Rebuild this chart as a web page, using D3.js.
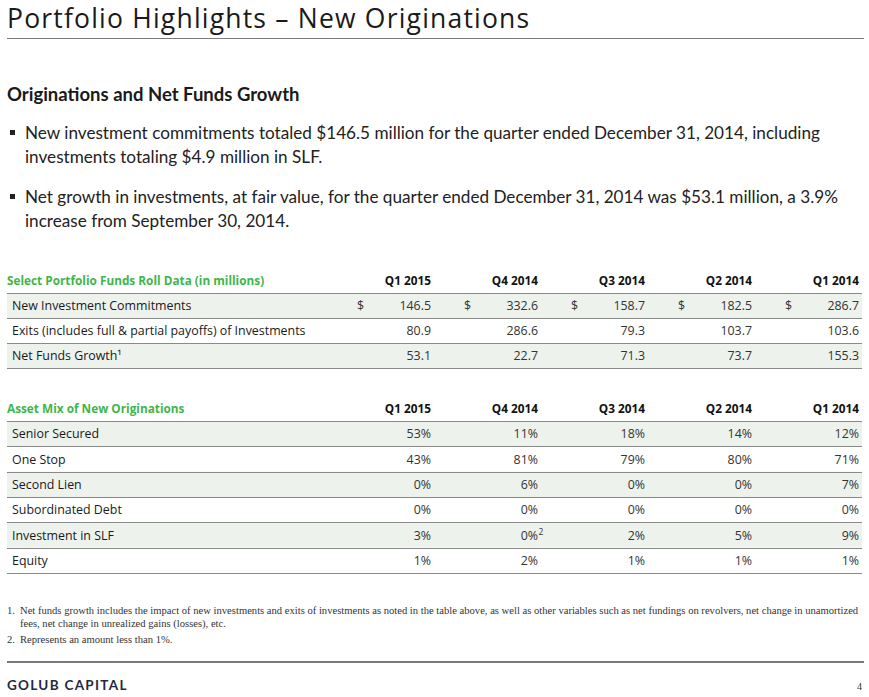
<!DOCTYPE html>
<html>
<head>
<meta charset="utf-8">
<script src="https://cdn.jsdelivr.net/npm/d3@7"></script>
<style>
  body { margin: 0; background: #fff; }
</style>
</head>
<body>
<div class="container"></div>
<script>
// Table data
const quarters = ["Q1 2015", "Q4 2014", "Q3 2014", "Q2 2014", "Q1 2014"];

const rollLabels = ["New Investment Commitments", "Exits (includes full & partial payoffs) of Investments", "Net Funds Growth\u00b9"];
const newCommitments = [146.5, 332.6, 158.7, 182.5, 286.7];
const exitsValues = [80.9, 286.6, 79.3, 103.7, 103.6];
const netFundsGrowth = [53.1, 22.7, 71.3, 73.7, 155.3];

const mixLabels = ["Senior Secured", "One Stop", "Second Lien", "Subordinated Debt", "Investment in SLF", "Equity"];
const seniorSecured = [53, 11, 18, 14, 12];
const oneStop = [43, 81, 79, 80, 71];
const secondLien = [0, 6, 0, 0, 7];
const subordinatedDebt = [0, 0, 0, 0, 0];
const investmentSLF = [3, 0, 2, 5, 9];
const equity = [1, 2, 1, 1, 1];
// footnote marks on single cells: [row, column, mark]
const mixNotes = [[4, 1, "2"]];

const bullets = [
    ["New investment commitments totaled $146.5 million for the quarter ended December 31, 2014, including",
     "investments totaling $4.9 million in SLF."],
    ["Net growth in investments, at fair value, for the quarter ended December 31, 2014 was $53.1 million, a 3.9%",
     "increase from September 30, 2014."]
];
const footnotes = [
    ["1.", "Net funds growth includes the impact of new investments and exits of investments as noted in the table above, as well as other variables such as net fundings on revolvers, net change in unamortized",
     "fees, net change in unrealized gains (losses), etc."],
    ["2.", "Represents an amount less than 1%."]
];

const width = 869,
    height = 697,
    left = 7,
    right = 862;

const sans = "Lato, 'Open Sans', sans-serif";
const tableFont = "'Open Sans', Lato, sans-serif";
const headSize = 11.8;
const cellSize = 12.4;
const green = "#3fb54a";
const shade = "#edf2ed";
const rule = "#8a8a8a";

const svg = d3.select(".container")
    .append("svg")
    .attr("width", width)
    .attr("height", height)
    .style("display", "block");

// Title and rule
svg.append("text")
    .attr("x", left)
    .attr("y", 28.3)
    .attr("font-family", "'Open Sans', sans-serif")
    .attr("font-size", 26.5)
    .attr("letter-spacing", 1.2)
    .attr("fill", "#1a1a1a")
    .text("Portfolio Highlights \u2013 New Originations");

svg.append("line")
    .attr("x1", left).attr("x2", 864)
    .attr("y1", 38.5).attr("y2", 38.5)
    .attr("stroke", "#7a7a7a");

svg.append("text")
    .attr("x", left)
    .attr("y", 101)
    .attr("font-family", sans)
    .attr("font-weight", "bold")
    .attr("font-size", 18.5)
    .attr("fill", "#1a1a1a")
    .text("Originations and Net Funds Growth");

// Bullets
bullets.forEach((lines, i) => {
    const y0 = 139 + i * 64;
    svg.append("rect")
        .attr("x", 10).attr("y", y0 - 9)
        .attr("width", 5).attr("height", 5)
        .attr("fill", "#222");
    lines.forEach((t, j) => {
        svg.append("text")
            .attr("x", 25)
            .attr("y", y0 + j * 23.5)
            .attr("font-family", sans)
            .attr("font-size", 17.15)
            .attr("fill", "#222")
            .text(t);
    });
});

// Column positions (right edges of numbers)
const col = d3.scalePoint()
    .domain(quarters)
    .range([431, 859]);

function drawTable(title, labels, rows, top, bottom, fmt, dollarRow, notes) {
    const g = svg.append("g");
    const y = d3.scaleBand()
        .domain(labels)
        .range([top, bottom]);

    g.append("text")
        .attr("x", left)
        .attr("y", top - 8)
        .attr("font-family", tableFont)
        .attr("font-weight", "bold")
        .attr("font-size", headSize)
        .attr("fill", green)
        .text(title);

    g.selectAll("text.qh")
        .data(quarters)
        .enter()
        .append("text")
        .attr("class", "qh")
        .attr("x", d => col(d))
        .attr("y", top - 8)
        .attr("text-anchor", "end")
        .attr("font-family", tableFont)
        .attr("font-weight", "bold")
        .attr("font-size", headSize)
        .attr("fill", "#111")
        .text(d => d);

    g.selectAll("rect.shade")
        .data(labels.filter((d, i) => i % 2 === 0))
        .enter()
        .append("rect")
        .attr("class", "shade")
        .attr("x", left)
        .attr("y", d => y(d))
        .attr("width", right - left)
        .attr("height", y.bandwidth())
        .attr("fill", shade);

    g.selectAll("line.rule")
        .data(labels.map(d => y(d)).concat([bottom]))
        .enter()
        .append("line")
        .attr("class", "rule")
        .attr("x1", left).attr("x2", right)
        .attr("y1", d => Math.round(d) + 0.5)
        .attr("y2", d => Math.round(d) + 0.5)
        .attr("stroke", rule);

    labels.forEach((label, r) => {
        const by = y(label) + y.bandwidth() / 2 + 4.5;
        g.append("text")
            .attr("x", 12)
            .attr("y", by)
            .attr("font-family", tableFont)
            .attr("font-size", cellSize)
            .attr("fill", "#1a1a1a")
            .text(label);

        const cells = g.selectAll(null)
            .data(rows[r])
            .enter();

        cells.append("text")
            .attr("x", (d, i) => col(quarters[i]))
            .attr("y", by)
            .attr("text-anchor", "end")
            .attr("font-family", tableFont)
            .attr("font-size", cellSize)
            .attr("fill", "#333")
            .text(d => fmt(d));

        if (r === dollarRow) {
            cells.append("text")
                .attr("x", (d, i) => col(quarters[i]) - 67)
                .attr("y", by)
                .attr("text-anchor", "end")
                .attr("font-family", tableFont)
                .attr("font-size", cellSize)
                .attr("fill", "#333")
                .text("$");
        }

        (notes || []).filter(n => n[0] === r).forEach(n => {
            g.append("text")
                .attr("x", col(quarters[n[1]]) + 0.5)
                .attr("y", by - 4.5)
                .attr("font-family", tableFont)
                .attr("font-size", 8.5)
                .attr("fill", "#333")
                .text(n[2]);
        });
    });
}

drawTable("Select Portfolio Funds Roll Data (in millions)",
    rollLabels,
    [newCommitments, exitsValues, netFundsGrowth],
    293, 368,
    d => d3.format(".1f")(d),
    0);

drawTable("Asset Mix of New Originations",
    mixLabels,
    [seniorSecured, oneStop, secondLien, subordinatedDebt, investmentSLF, equity],
    421, 573,
    d => d + "%",
    -1,
    mixNotes);

// Footnotes
const serif = "'Liberation Serif', 'DejaVu Serif', serif";
let fy = 614;
footnotes.forEach((fn, i) => {
    svg.append("text")
        .attr("x", left)
        .attr("y", fy)
        .attr("font-family", serif)
        .attr("font-size", 10.6)
        .attr("fill", "#333")
        .text(fn[0]);
    fn.slice(1).forEach((t, j) => {
        svg.append("text")
            .attr("x", 20)
            .attr("y", fy)
            .attr("font-family", serif)
            .attr("font-size", 10.6)
            .attr("fill", "#333")
            .text(t);
        fy += j === fn.length - 2 ? 16 : 13;
    });
});

// Footer
svg.append("line")
    .attr("x1", left).attr("x2", 864)
    .attr("y1", 662).attr("y2", 662)
    .attr("stroke", "#7a7a7a")
    .attr("stroke-width", 2);

svg.append("text")
    .attr("x", left)
    .attr("y", 690)
    .attr("font-family", sans)
    .attr("font-weight", "bold")
    .attr("font-size", 13.5)
    .attr("letter-spacing", 1.3)
    .attr("fill", "#1f2b3c")
    .text("GOLUB CAPITAL");

svg.append("text")
    .attr("x", 862)
    .attr("y", 690)
    .attr("text-anchor", "end")
    .attr("font-family", serif)
    .attr("font-size", 10)
    .attr("fill", "#333")
    .text("4");
</script>
</body>
</html>
